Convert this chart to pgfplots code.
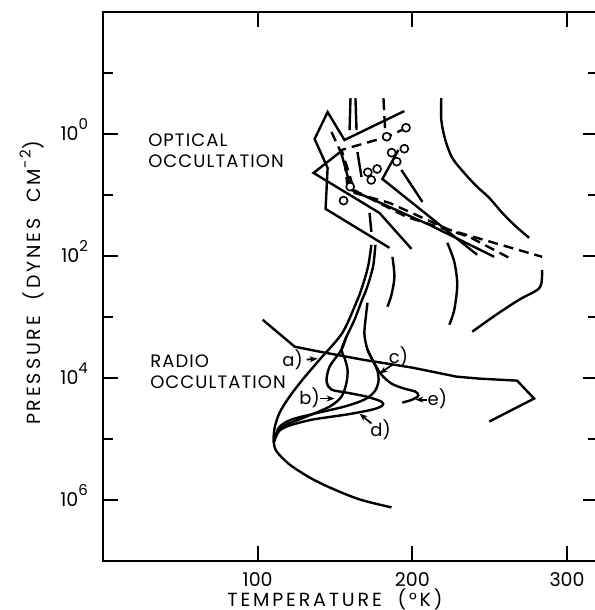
\documentclass[border=0pt]{standalone}
\usepackage{fontspec}
\setmainfont{Poppins}
\newfontfamily\lsfont[LetterSpace=6]{Poppins}
\newfontfamily\axfont[LetterSpace=15]{Poppins}
\usepackage{pgfplots}
\pgfplotsset{compat=1.18}
\usetikzlibrary{arrows.meta}
\newcommand{\tp}[1]{10\raisebox{0.6em}{\fontsize{7.5}{8}\selectfont #1}}
\begin{document}
\begin{tikzpicture}
\begin{axis}[
  scale only axis, width=247.5pt, height=274.5pt,
  xmin=0, xmax=320, ymin=-2, ymax=7, y dir=reverse,
  xtick={100,200,300}, xticklabels={100,200,300},
  ytick={0,2,4,6}, yticklabels={\tp{0},\tp{2},\tp{4},\tp{6}},
  minor ytick={-1,1,3,5},
  tick align=inside, major tick length=7.5pt, minor tick length=5pt,
  tick style={black, line width=1.1pt},
  axis line style={line width=1.3pt},
  tick label style={font=\fontsize{9.5}{11}\selectfont},
  xticklabel style={yshift=-2pt},
  yticklabel style={anchor=base east, yshift=-3.3pt, xshift=-4pt},
  clip=false,
  cv/.style={black, line width=1.2pt, no marks},
  dv/.style={black, line width=1.2pt, no marks, dash pattern=on 5pt off 3pt},
]
\coordinate (O) at (axis cs:0,7);
% double model lines, upper pieces
\addplot[cv] coordinates {(160.0,-0.589) (159.4,-0.065)};
\addplot[cv] coordinates {(163.2,-0.589) (163.9,-0.065)};
\addplot[cv] coordinates {(164.5,0.295) (167.1,0.704)};
\addplot[cv] coordinates {(172.3,1.293) (173.5,1.604)};
% a)
\addplot[cv, smooth] coordinates {(173.5,1.817) (171.6,2.144) (169.0,2.390) (166.5,2.586) (164.5,2.717) (154.8,3.257) (140.0,3.699) (129.0,4.027) (120.6,4.305) (114.2,4.566) (111.0,4.812) (110.3,5.041) (112.3,5.205) (120.6,5.418) (133.5,5.630) (146.5,5.794) (165.8,5.990) (186.5,6.121)};
% d)
\addplot[cv, smooth] coordinates {(176.1,1.817) (174.8,2.144) (172.3,2.390) (169.7,2.586) (167.5,2.717) (162.6,3.044) (157.4,3.323) (154.2,3.535) (146.5,3.814) (144.5,4.059) (147.7,4.190) (157.4,4.239) (170.3,4.305) (180.0,4.387) (180.6,4.452) (174.2,4.517) (157.4,4.599) (135.5,4.681) (120.6,4.779) (114.2,4.861) (111.6,4.976)};
% b)
\addplot[cv, smooth] coordinates {(157.4,3.323) (154.2,3.535) (156.1,3.666) (158.1,3.863) (157.4,4.075) (154.2,4.305) (146.5,4.468) (131.6,4.632) (117.4,4.779) (112.3,4.910) (111.0,5.041)};
% c)
\addplot[cv, smooth] coordinates {(171.0,2.766) (169.7,3.044) (169.0,3.290) (171.0,3.535) (174.8,3.732) (177.4,3.879) (178.1,4.059) (175.5,4.223) (169.0,4.354) (156.1,4.468) (136.8,4.583) (121.9,4.681) (114.2,4.796) (111.6,4.943)};
% e)
\addplot[cv, smooth] coordinates {(171.0,3.535) (174.8,3.732) (180.0,3.944) (186.5,4.092) (194.8,4.174) (201.9,4.223) (203.9,4.288) (200.0,4.354) (193.5,4.403)};
% radio occultation profile
\addplot[cv] coordinates {(103.2,3.044) (123.9,3.486) (140.0,3.568) (167.7,3.699) (200.0,3.830) (228.4,3.977) (243.2,4.010) (267.7,4.043) (278.7,4.337) (249.7,4.714)};
% right-hand curves
\addplot[cv, smooth] coordinates {(218.7,-0.589) (218.7,-0.229) (221.3,0.098) (225.8,0.393) (233.5,0.638) (241.3,0.851) (249.7,1.047) (258.1,1.293) (266.5,1.506) (275.5,1.702)};
\addplot[cv, smooth] coordinates {(283.9,2.226) (283.4,2.45) (280.5,2.56) (269.0,2.717) (254.2,2.962) (238.7,3.241)};
\addplot[cv, smooth] coordinates {(222.6,1.784) (227.1,2.095) (229.0,2.471) (227.1,2.881) (223.9,3.126)};
\addplot[cv, smooth] coordinates {(187.1,2.013) (188.4,2.340) (186.5,2.635) (183.9,2.831)};
% optical occultation profiles
\addplot[cv] coordinates {(194.8,-0.376) (156.1,0.098) (145.2,-0.360) (136.8,0.082) (145.2,0.556) (143.9,1.228) (185.2,1.866)};
\addplot[cv] coordinates {(154.2,0.278) (136.1,0.638) (178.7,1.293) (199.4,1.882)};
\addplot[cv] coordinates {(191.0,0.262) (180.6,0.737) (241.9,1.980)};
\addplot[cv] coordinates {(153.5,0.262) (160.6,0.917) (211.0,1.489) (252.9,2.013)};
\addplot[cv] coordinates {(192.9,0.589) (206.5,1.113)};
\addplot[dv] coordinates {(147.7,-0.033) (156.1,0.426) (158.1,0.867) (196.1,1.358) (236.8,1.686) (262.6,2.030)};
\addplot[dv] coordinates {(196.1,-0.098) (183.2,0.049) (154.2,0.262) (159.4,0.671) (162.6,0.966) (185.2,1.129) (223.9,1.571) (283.9,2.013)};
\addplot[dv, dash pattern=on 6pt off 3pt] coordinates {(181.3,-0.589) (182.6,0.049)};
\addplot[only marks, mark=*, mark size=2pt, mark options={fill=white, draw=black, line width=0.8pt}] coordinates {(183.4,0.044) (195.9,-0.103) (186.6,0.306) (194.8,0.241) (189.9,0.453) (171.2,0.627) (177.2,0.573) (173.4,0.753) (159.8,0.863) (155.5,1.092)};
% labels
\node[font=\lsfont\fontsize{9}{10.5}\selectfont, anchor=north west, align=left, inner sep=0pt] at (axis cs:29.0,-0.016) {OPTICAL\\OCCULTATION};
\node[font=\lsfont\fontsize{9}{10.5}\selectfont, anchor=north west, align=left, inner sep=0pt] at (axis cs:30.3,3.617) {RADIO\\OCCULTATION};
\begin{scope}[font=\fontsize{9}{10}\selectfont, every node/.style={inner sep=0pt}]
\node at (axis cs:122.6,3.699) {a)};
\node at (axis cs:133.5,4.321) {b)};
\node at (axis cs:191.0,3.650) {c)};
\node at (axis cs:179.4,4.845) {d)};
\node at (axis cs:216.1,4.337) {e)};
\end{scope}
\begin{scope}[-{Stealth[length=4pt,width=3pt]}, line width=0.9pt]
\draw (axis cs:131.6,3.699) -- (axis cs:138.7,3.683);
\draw (axis cs:140.0,4.337) -- (axis cs:149.7,4.337);
\draw (axis cs:187.1,3.781) -- (axis cs:178.7,3.928);
\draw (axis cs:173.5,4.746) -- (axis cs:165.8,4.583);
\draw (axis cs:209.7,4.354) -- (axis cs:201.9,4.354);
\end{scope}
\end{axis}
\node[font=\axfont\fontsize{9.5}{11}\selectfont] at ([shift={(116pt,-19pt)}]O) {TEMPERATURE \ (°K)};
\node[font=\axfont\fontsize{9.5}{11}\selectfont, rotate=90] at ([shift={(-35.5pt,139pt)}]O) {PRESSURE \ (DYNES \ CM\raisebox{0.55em}{\fontsize{7.5}{8}\selectfont -2})};
\pgfresetboundingbox
\path[use as bounding box] ([shift={(-51.5pt,-24.5pt)}]O) rectangle ([shift={(245.5pt,280.5pt)}]O);
\end{tikzpicture}
\end{document}
